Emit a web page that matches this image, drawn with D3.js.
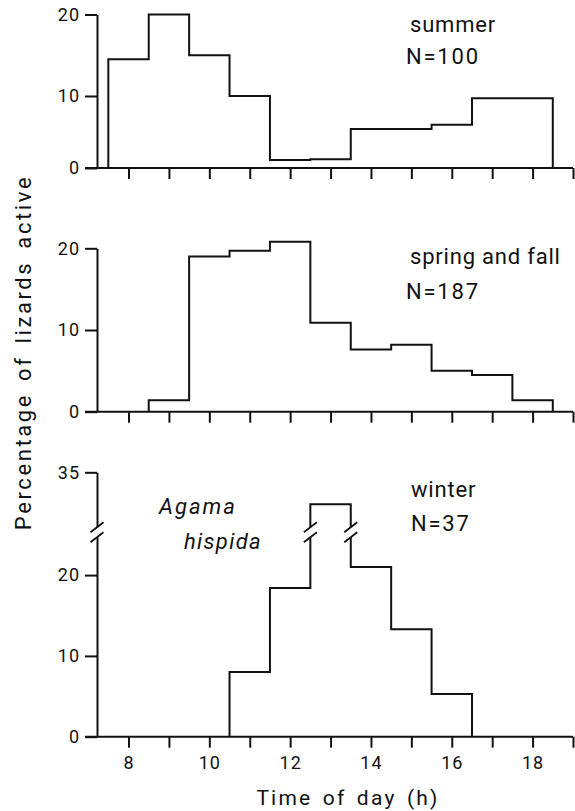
<!DOCTYPE html>
<html>
<head>
<meta charset="utf-8">
<script src="https://cdn.jsdelivr.net/npm/d3@7"></script>
<style>
  html, body { margin: 0; padding: 0; background: #fff; }
  svg { display: block; }
  text { font-family: Roboto, "Noto Sans", sans-serif; fill: #111; }
</style>
</head>
<body>
<svg id="chart" width="575" height="811"></svg>
<script>
// ---- data (percentage of lizards active per 1-h bin, bins centred on the hour) ----
const summerHours = [8, 9, 10, 11, 12, 13, 14, 15, 16, 17, 18];
const summerValues = [14.5, 20, 15, 10, 1.1, 1.2, 5.4, 5.4, 6, 9.7, 9.7];
const springFallHours = [9, 10, 11, 12, 13, 14, 15, 16, 17, 18];
const springFallValues = [1.4, 19, 19.7, 20.8, 10.9, 7.6, 8.2, 5, 4.5, 1.4];
const winterHours = [11, 12, 13, 14, 15, 16];
const winterValues = [8, 18.4, 32.4, 21, 13.3, 5.3];

const summerTicks = [0, 10, 20];
const springFallTicks = [0, 10, 20];
const winterTicks = [0, 10, 20, 35];
const hourTicks = [8, 9, 10, 11, 12, 13, 14, 15, 16, 17, 18, 19];
const hourLabels = [8, 10, 12, 14, 16, 18];

const summerLabel = ["summer", "N=100"];
const springFallLabel = ["spring and fall", "N=187"];
const winterLabel = ["winter", "N=37"];
const speciesLabel = ["Agama", "hispida"];
const xTitle = "Time of day (h)";
const yTitle = "Percentage of lizards active";

// ---- layout ----
const svg = d3.select("#chart");
const axisX0 = 97, axisX1 = 573;
const x = d3.scaleLinear().domain([7.22, 19]).range([axisX0, axisX1]);

// top panel (axis as printed: lower half slightly compressed)
const yTop = d3.scaleLinear().domain([0, 10, 20]).range([168, 96, 14.5]);
// middle panel
const yMid = d3.scaleLinear().domain([0, 20]).range([411.7, 248.3]);
// bottom panel: broken axis, 25–30 hidden in the break
const b0 = 736.7, bUnit = 8.08;
const bLow = b0 - 25 * bUnit;      // top of lower segment
const bHigh = bLow - 1;            // bottom of upper segment
const bTop = 472.3;                // position of 35
const yBot = d3.scaleLinear().domain([0, 25, 30, 35]).range([b0, bLow, bHigh, bTop]);
const breakY = (bLow + bHigh) / 2 - 2;

const panels = [
  { hours: summerHours, values: summerValues, y: yTop, ticks: summerTicks, label: summerLabel,
    lx: [410, 406], ly: [32, 63.5], xlabels: false },
  { hours: springFallHours, values: springFallValues, y: yMid, ticks: springFallTicks, label: springFallLabel,
    lx: [410, 406], ly: [263.5, 298.5], xlabels: false },
  { hours: winterHours, values: winterValues, y: yBot, ticks: winterTicks, label: winterLabel,
    lx: [411, 411], ly: [496.7, 530.7], xlabels: true }
];

const stroke = "#111";

panels.forEach(p => {
  const g = svg.append("g");
  const y0 = p.y(0);

  // x axis
  const xa = d3.axisBottom(x).tickValues(hourTicks).tickSize(11).tickSizeOuter(0)
    .tickFormat(d => (p.xlabels && hourLabels.includes(d)) ? d : "").tickPadding(9);
  const gx = g.append("g").attr("transform", `translate(0,${y0})`).call(xa);
  gx.select(".domain").attr("stroke", stroke).attr("stroke-width", 2)
    .attr("d", `M${axisX0 - 12},0H${axisX1}`);
  gx.selectAll(".tick line").attr("stroke", stroke).attr("stroke-width", 2);
  gx.selectAll(".tick text").attr("font-size", 18).attr("letter-spacing", 1)
    .attr("font-family", "Roboto, sans-serif").attr("fill", "#111");

  // y axis
  const ya = d3.axisLeft(p.y).tickValues(p.ticks).tickSize(12).tickSizeOuter(0).tickPadding(5);
  const gy = g.append("g").attr("transform", `translate(${axisX0},0)`).call(ya);
  gy.select(".domain").attr("stroke", stroke).attr("stroke-width", 2);
  gy.selectAll(".tick line").attr("stroke", stroke).attr("stroke-width", 2);
  gy.selectAll(".tick text").attr("font-size", 18).attr("letter-spacing", 1)
    .attr("font-family", "Roboto, sans-serif").attr("fill", "#111");

  // histogram outline
  const pts = p.hours.map((h, i) => [h - 0.5, i === 0 ? 0 : p.values[i - 1]]);
  const last = p.hours[p.hours.length - 1] + 0.5;
  pts.push([last, p.values[p.values.length - 1]]);
  pts.push([last, 0]);
  const line = d3.line().x(d => x(d[0])).y(d => p.y(d[1])).curve(d3.curveStepBefore);
  g.append("path").attr("d", line(pts)).attr("fill", "none")
    .attr("stroke", stroke).attr("stroke-width", 2).attr("stroke-linejoin", "miter");

  // season labels
  p.label.forEach((t, i) => {
    g.append("text").attr("x", p.lx[i]).attr("y", p.ly[i]).attr("font-size", 22)
      .attr("letter-spacing", i === 0 ? 0.8 : 1.8).text(t);
  });
});

// break marks on bottom panel (axis and the broken bar)
function breakMark(cx) {
  svg.append("line").attr("x1", cx).attr("x2", cx).attr("y1", breakY - 5).attr("y2", breakY + 5)
    .attr("stroke", "#fff").attr("stroke-width", 5);
  [-5, 5].forEach(off => {
    svg.append("line")
      .attr("x1", cx - 6.5).attr("y1", breakY + off + 5)
      .attr("x2", cx + 6.5).attr("y2", breakY + off - 5)
      .attr("stroke", stroke).attr("stroke-width", 1.8);
  });
}
breakMark(axisX0);
const brokenIdx = winterValues.findIndex(v => v > 25);
breakMark(x(winterHours[brokenIdx] - 0.5));
breakMark(x(winterHours[brokenIdx] + 0.5));

// species label
svg.append("text").attr("x", 159).attr("y", 513.5).attr("font-size", 22).attr("font-style", "italic")
  .attr("letter-spacing", 2).text(speciesLabel[0]);
svg.append("text").attr("x", 184).attr("y", 548.6).attr("font-size", 22).attr("font-style", "italic")
  .attr("letter-spacing", 1.3).text(speciesLabel[1]);

// axis titles
svg.append("text").attr("x", 348).attr("y", 805).attr("text-anchor", "middle")
  .attr("font-size", 21).attr("letter-spacing", 2.2).attr("word-spacing", 3).text(xTitle);
svg.append("text").attr("transform", "translate(31,352.5) rotate(-90)").attr("text-anchor", "middle")
  .attr("font-size", 22).attr("letter-spacing", 2.6).attr("word-spacing", 4).text(yTitle);
</script>
</body>
</html>
